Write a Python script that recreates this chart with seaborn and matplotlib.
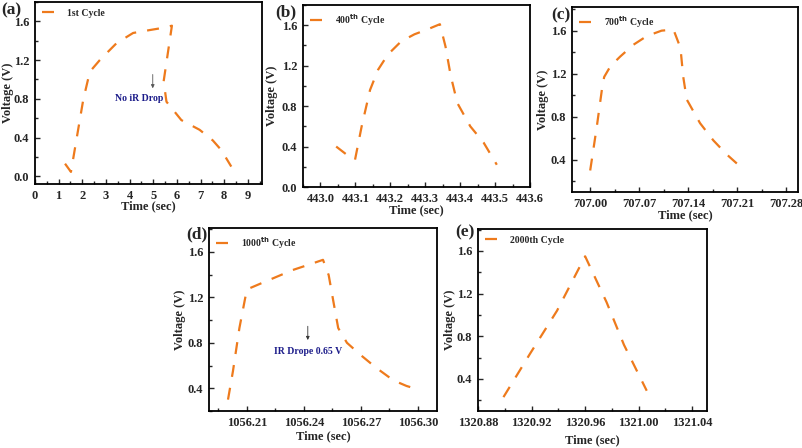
import matplotlib
matplotlib.use("Agg")
import matplotlib.pyplot as plt
import pandas as pd
import seaborn as sns
from matplotlib.ticker import MultipleLocator, FixedLocator

# cycle 1
t_1 = [1.27, 1.52, 2.04, 2.32, 2.74, 3.45, 4.15, 4.85, 5.34, 5.79, 5.44, 5.56, 6.19, 6.96, 7.52, 7.88, 8.30]
v_1 = [0.13, 0.045, 0.79, 1.08, 1.20, 1.375, 1.48, 1.51, 1.53, 1.555, 0.98, 0.77, 0.58, 0.48, 0.37, 0.27, 0.10]

# cycle 400
t_400 = [443.045, 443.075, 443.099, 443.118, 443.142, 443.165, 443.193, 443.231, 443.269,
         443.307, 443.342, 443.358, 443.373, 443.392, 443.429, 443.467, 443.505]
v_400 = [0.40, 0.32, 0.27, 0.60, 0.96, 1.16, 1.31, 1.44, 1.51, 1.56, 1.61, 1.39, 1.10, 0.83, 0.60, 0.44, 0.22]

# cycle 700
t_700 = [707.000, 707.0095, 707.0167, 707.020, 707.029, 707.043, 707.062, 707.081, 707.102,
         707.119, 707.129, 707.133, 707.138, 707.157, 707.176, 707.195, 707.219]
v_700 = [0.30, 0.71, 1.05, 1.17, 1.27, 1.36, 1.47, 1.55, 1.60, 1.61, 1.44, 1.17, 0.96, 0.74, 0.58, 0.45, 0.31]

# cycle 1000
t_1000 = [1056.200, 1056.2026, 1056.206, 1056.209, 1056.210, 1056.217, 1056.2255, 1056.234, 1056.243,
          1056.250, 1056.253, 1056.2555, 1056.258, 1056.2626, 1056.270, 1056.278, 1056.287, 1056.294, 1056.300]
v_1000 = [0.30, 0.55, 0.93, 1.19, 1.27, 1.32, 1.38, 1.44, 1.49, 1.53, 1.395, 1.16, 0.93, 0.80, 0.69,
          0.58, 0.47, 0.42, 0.39]

# cycle 2000
t_2000 = [1320.899, 1320.919, 1320.939, 1320.960, 1320.976, 1320.989, 1321.006]
v_2000 = [0.23, 0.64, 1.04, 1.55, 1.12, 0.72, 0.29]

sns.set_style("ticks")
plt.rcParams["font.family"] = ["Liberation Serif", "DejaVu Serif"]
plt.rcParams["font.weight"] = "bold"
plt.rcParams["axes.labelweight"] = "bold"

ORANGE = "#EE7A1C"
NAVY = "#1C1C8A"
DASH = (5.4, 5.0)
W, H = 803, 448

fig = plt.figure(figsize=(W / 100, H / 100), dpi=100)


def make_axes(x0, y0, x1, y1):
    return fig.add_axes([x0 / W, 1 - y1 / H, (x1 - x0) / W, (y1 - y0) / H])


panels = [
    # (box, t, v, label, xlim, ylim, xticks, xminor, yticks, tag, tagpos, fmt, ylab_x, xlab_y)
    ((35, 2, 262, 184), t_1, v_1, "1st Cycle", (0, 9.6), (-0.08, 1.8),
     list(range(0, 10)), 0.5, [0.0, 0.4, 0.8, 1.2, 1.6], "(a)", (1, 14), "{:.0f}", 8, 206),
    ((303, 5, 530, 187), t_400, v_400, "400$^{\\rm th}$ Cycle", (442.95, 443.6), (0.0, 1.8),
     [443.0, 443.1, 443.2, 443.3, 443.4, 443.5, 443.6], 0.05, [0.0, 0.4, 0.8, 1.2, 1.6], "(b)", (275, 16), "{:.1f}", 272, 210),
    ((572, 7, 798, 192), t_700, v_700, "700$^{\\rm th}$ Cycle", (706.974, 707.297), (0.1, 1.82),
     [707.00, 707.07, 707.14, 707.21, 707.28], 0.035, [0.4, 0.8, 1.2, 1.6], "(c)", (551, 19), "{:.2f}", 543, 215),
    ((209, 228, 437, 411), t_1000, v_1000, "1000$^{\\rm th}$ Cycle", (1056.19, 1056.31), (0.2, 1.81),
     [1056.21, 1056.24, 1056.27, 1056.30], 0.015, [0.4, 0.8, 1.2, 1.6], "(d)", (186, 238), "{:.2f}", 180, 436),
    ((478, 229, 707, 411), t_2000, v_2000, "2000th Cycle", (1320.88, 1321.051), (0.1, 1.806),
     [1320.88, 1320.92, 1320.96, 1321.00, 1321.04], 0.02, [0.4, 0.8, 1.2, 1.6], "(e)", (455, 236), "{:.2f}", 450, 440),
]

axes = []
for box, t, v, label, xlim, ylim, xticks, xminor, yticks, tag, tagpos, fmt, ylab_x, xlab_y in panels:
    ax = make_axes(*box)
    df = pd.DataFrame({"Time (sec)": t, "Voltage (V)": v})
    sns.lineplot(data=df, x="Time (sec)", y="Voltage (V)", sort=False, ax=ax,
                 color=ORANGE, linewidth=1.6, label=label)
    ax.lines[0].set_dashes(DASH)
    ax.lines[0].set_dash_capstyle("butt")
    ax.set_xlim(*xlim)
    ax.set_ylim(*ylim)
    ax.xaxis.set_major_locator(FixedLocator(xticks))
    ax.set_xticklabels([fmt.format(x) for x in xticks])
    ax.xaxis.set_minor_locator(MultipleLocator(xminor))
    ax.yaxis.set_major_locator(FixedLocator(yticks))
    ax.set_yticklabels([f"{y:.1f}" for y in yticks])
    ax.yaxis.set_minor_locator(MultipleLocator(0.2))
    ax.tick_params(which="both", direction="in", labelsize=9, width=1.0)
    ax.tick_params(which="major", length=3.5, pad=4)
    ax.tick_params(which="minor", length=2)
    for s in ax.spines.values():
        s.set_linewidth(1.3)
        s.set_color("black")
    ax.set_xlabel("Time (sec)", fontsize=9)
    ax.set_ylabel("Voltage (V)", fontsize=9)
    x0, y0, x1, y1 = box
    ax.yaxis.set_label_coords((ylab_x - x0) / (x1 - x0), 0.5)
    ax.xaxis.set_label_coords(0.5, (y1 - xlab_y) / (y1 - y0))
    ax.xaxis.label.set_va("center")
    ax.yaxis.label.set_va("center")
    leg = ax.legend(loc="upper left", frameon=False, fontsize=7, handlelength=1.4,
                    borderaxespad=0.3, handletextpad=1.2)
    leg.get_lines()[0].set_dashes(DASH)
    for txt in leg.get_texts():
        txt.set_fontweight("bold")
    fig.text(tagpos[0] / W, 1 - tagpos[1] / H, tag, fontsize=12.5, fontweight="bold", va="baseline")
    axes.append(ax)

# annotations
ax_a = axes[0]
ax_a.annotate("", xy=(4.98, 0.88), xytext=(4.98, 1.08),
              arrowprops=dict(arrowstyle="-|>", color="#555555", lw=0.6, mutation_scale=5))
ax_a.text(4.39, 0.80, "No iR Drop", color=NAVY, fontsize=7, fontweight="bold", ha="center", va="center")

ax_d = axes[3]
ax_d.annotate("", xy=(1056.242, 0.80), xytext=(1056.242, 0.97),
              arrowprops=dict(arrowstyle="-|>", color="#333333", lw=0.6, mutation_scale=5))
ax_d.text(1056.242, 0.72, "IR Drope 0.65 V", color=NAVY, fontsize=7, fontweight="bold", ha="center", va="center")

fig.savefig("out.png", dpi=100)
plt.close(fig)
